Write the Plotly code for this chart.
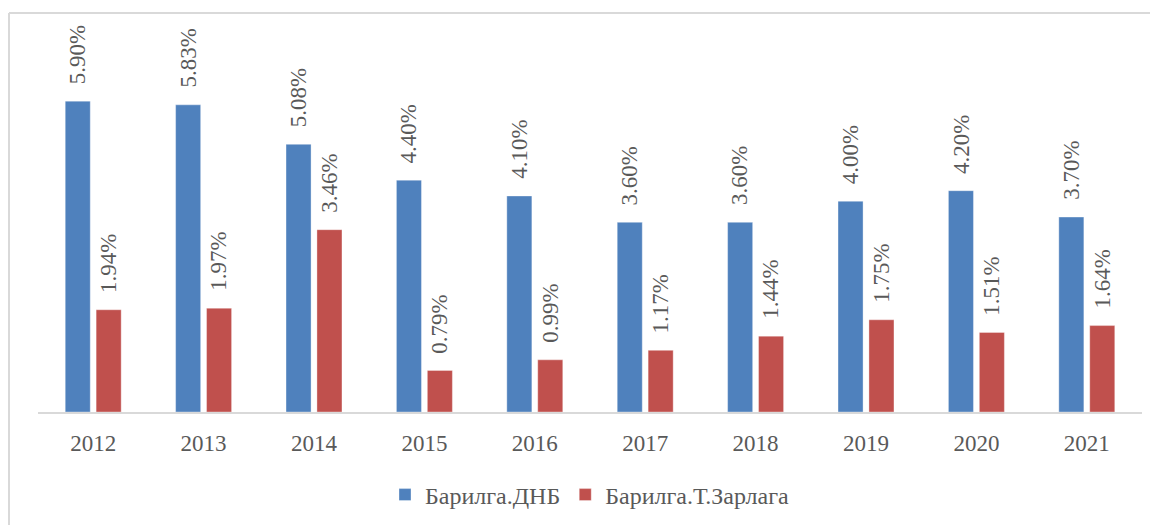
import plotly.graph_objects as go

# data
years = ["2012", "2013", "2014", "2015", "2016", "2017", "2018", "2019", "2020", "2021"]
dnb = [5.90, 5.83, 5.08, 4.40, 4.10, 3.60, 3.60, 4.00, 4.20, 3.70]
zarlaga = [1.94, 1.97, 3.46, 0.79, 0.99, 1.17, 1.44, 1.75, 1.51, 1.64]
series_names = ["Барилга.ДНБ", "Барилга.Т.Зарлага"]
series_colors = ["#4F81BD", "#C0504D"]

# page body has an 8px margin, so the figure is laid out 8px in from the window edge
W, H = 1158, 525
ML, MR, MT, MB = 30, 24, 12, 121
FONT = "Liberation Serif, Times New Roman, serif"
TXT = "#595959"

fig = go.Figure()
for name, vals, col in zip(series_names, [dnb, zarlaga], series_colors):
    fig.add_trace(go.Bar(
        x=years, y=vals, name=name,
        marker=dict(color=col, line=dict(color="rgba(255,255,255,0.35)", width=1)),
    ))

# rotated value labels above each bar (x given as category index)
annots = []
for vals, shift in [(dnb, -15.5), (zarlaga, 15.5)]:
    for i, v in enumerate(vals):
        annots.append(dict(
            x=i, y=v, xref="x", yref="y",
            text=f"{v:.2f}%", showarrow=False, textangle=-90,
            xanchor="center", yanchor="bottom", xshift=shift, yshift=15,
            font=dict(family=FONT, size=23, color=TXT),
        ))

pw = W - ML - MR
ph = H - MT - MB

def px_x(p):
    return (p - ML) / pw

def px_y(p):
    return (H - MB - p) / ph

# light outer frame of the chart area (left and top edges visible)
shapes = [
    dict(type="line", xref="paper", yref="paper",
         x0=px_x(1), x1=px_x(W + 5), y0=px_y(5), y1=px_y(5),
         line=dict(color="#d9d9d9", width=2)),
    dict(type="line", xref="paper", yref="paper",
         x0=px_x(1), x1=px_x(1), y0=px_y(5), y1=px_y(H + 5),
         line=dict(color="#d9d9d9", width=2)),
]

fig.update_layout(
    width=W, height=H,
    margin=dict(l=ML, r=MR, t=MT, b=MB),
    paper_bgcolor="white", plot_bgcolor="white",
    barmode="group", bargap=0.44, bargroupgap=0.19,
    font=dict(family=FONT, size=22, color=TXT),
    xaxis=dict(
        type="category", range=[-0.5, len(years) - 0.5],
        showline=True, linecolor="#d9d9d9", linewidth=2,
        showgrid=False, ticks="", ticklabelstandoff=9,
        tickfont=dict(family=FONT, size=23, color=TXT),
    ),
    yaxis=dict(range=[0, 7.44], visible=False, showgrid=False, zeroline=False),
    legend=dict(
        orientation="h", x=0.5, xanchor="center", y=px_y(487), yanchor="middle",
        font=dict(family=FONT, size=24, color=TXT),
        traceorder="normal",
    ),
    annotations=annots,
    shapes=shapes,
)

fig.write_html("out.html")
